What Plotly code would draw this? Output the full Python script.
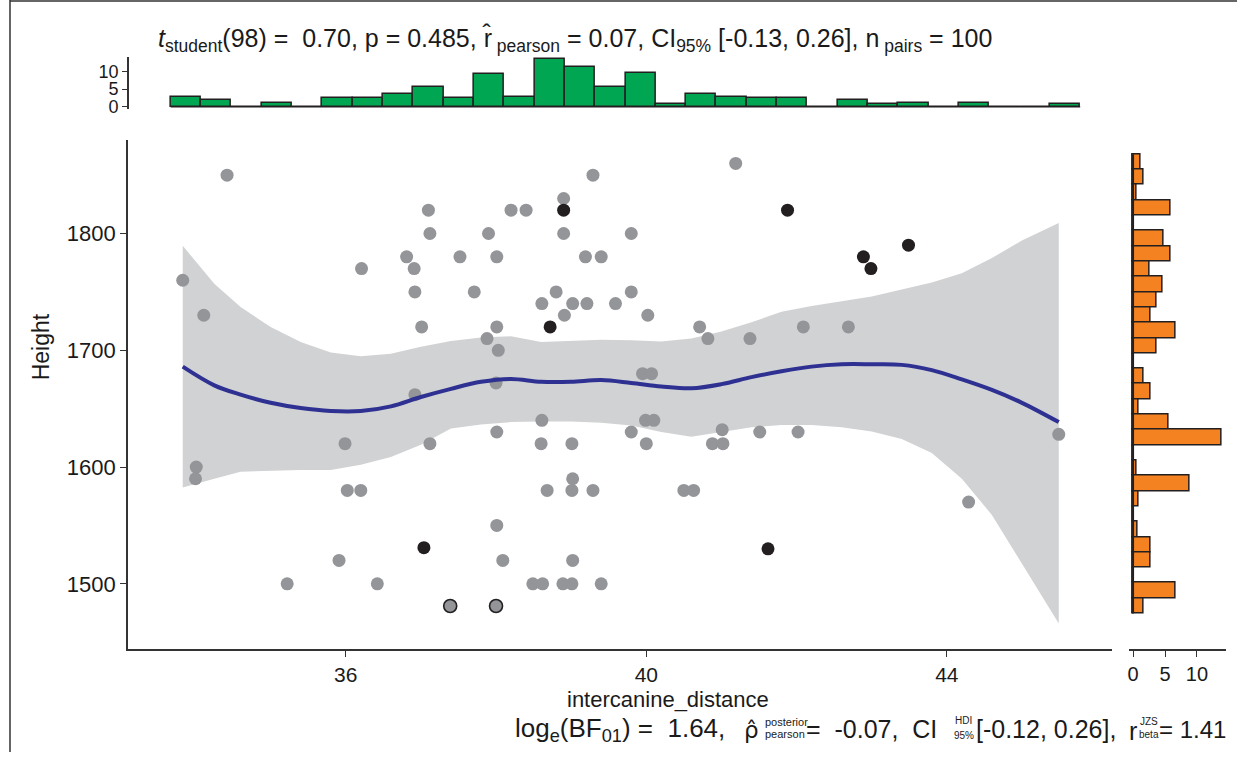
import plotly.graph_objects as go

W, H = 1237, 760
FONT = "Liberation Sans"
DARK = "#231F20"
GREY = "#939598"
BAND = "#D1D2D4"
BLUE = "#2E3192"
GREEN = "#00A651"
ORANGE = "#F58220"

# ---------------- data ----------------
grey_x = [34.42, 37.10, 38.20, 38.40, 38.90, 39.29, 37.12, 37.90, 38.90, 39.80,
          36.81, 37.52, 38.01, 39.19, 39.40, 36.21, 36.91, 33.83, 36.92, 37.71,
          38.80, 39.80, 38.61, 39.02, 39.21, 39.59, 34.11, 38.91, 37.01, 38.01,
          37.88, 38.03, 38.00, 36.92, 38.61, 35.99, 37.12, 38.01, 38.60, 39.01,
          39.80, 34.01, 34.00, 36.02, 36.20, 38.68, 39.01, 39.29, 39.02, 38.01,
          35.91, 38.09, 39.02, 35.22, 36.42, 38.49, 38.62, 38.89, 39.01, 39.40,
          41.19, 40.02, 40.71, 40.82, 41.38, 42.09, 42.69, 39.95, 40.07, 39.99,
          40.10, 40.00, 41.01, 40.88, 41.02, 41.51, 42.02, 45.49, 40.50, 40.63,
          44.29]
grey_y = [1850, 1820, 1820, 1820, 1830, 1850, 1800, 1800, 1800, 1800,
          1780, 1780, 1780, 1780, 1780, 1770, 1770, 1760, 1750, 1750,
          1750, 1750, 1740, 1740, 1740, 1740, 1730, 1730, 1720, 1720,
          1710, 1700, 1672, 1662, 1640, 1620, 1620, 1630, 1620, 1620,
          1630, 1600, 1590, 1580, 1580, 1580, 1580, 1580, 1590, 1550,
          1520, 1520, 1520, 1500, 1500, 1500, 1500, 1500, 1500, 1500,
          1860, 1730, 1720, 1710, 1710, 1720, 1720, 1680, 1680, 1640,
          1640, 1620, 1632, 1620, 1620, 1630, 1630, 1628, 1580, 1580,
          1570]
black_x = [38.90, 38.72, 37.04, 41.88, 43.49, 42.89, 42.99, 41.62]
black_y = [1820, 1720, 1531, 1820, 1790, 1780, 1770, 1530]
ring_x = [37.39, 38.00]
ring_y = [1481, 1481]

fit_x = [33.83, 34.25, 34.6, 35.0, 35.4, 35.8, 36.2, 36.6, 37.0, 37.4,
         37.8, 38.2, 38.6, 39.0, 39.4, 39.8, 40.2, 40.6, 41.0, 41.4,
         41.8, 42.2, 42.6, 43.0, 43.4, 43.8, 44.2, 44.6, 45.0, 45.49]
fit_y = [1686, 1670, 1662, 1655, 1650.5, 1648, 1648, 1652, 1660, 1667,
         1673, 1675.5, 1673, 1673, 1674.5, 1672, 1669, 1667.5, 1671, 1677,
         1682, 1686, 1688, 1688, 1687.5, 1683, 1675, 1666, 1655, 1638.5]
fit_hi = [1789.5, 1757, 1737, 1720, 1707, 1698, 1695, 1697, 1703, 1708,
          1711, 1712, 1707, 1708, 1709, 1708.5, 1707.5, 1710, 1716, 1724,
          1733, 1738, 1742, 1746, 1752, 1758, 1766, 1779, 1794, 1809]
fit_lo = [1582.5, 1590, 1596, 1597, 1597.5, 1597.5, 1602, 1608.7, 1619, 1633,
          1636.5, 1638.5, 1639, 1639, 1638, 1635.6, 1630, 1626, 1630, 1634,
          1636, 1636, 1634, 1630.5, 1624, 1612, 1590, 1559, 1517, 1466]

# top marginal histogram (x)
top_bin_start = 33.67
top_bin_width = 0.4035
top_counts = [2.8, 1.9, 0, 1.1, 0, 2.5, 2.6, 3.6, 5.5, 2.5,
              9.3, 2.8, 13.3, 11.3, 5.5, 9.6, 0.9, 3.6, 2.8, 2.6,
              2.5, 0, 2.0, 0.8, 1.0, 0, 1.1, 0, 0, 0.8]
# right marginal histogram (y), listed from top bin downward
right_bin_top = 1867.8
right_bin_width = 13.11
right_counts = [1.15, 1.7, 0.5, 5.8, 0, 4.8, 5.9, 2.6, 4.6, 3.7,
                2.7, 6.6, 3.7, 0, 1.7, 2.7, 0.9, 5.6, 13.9, 0,
                0.6, 8.8, 0.8, 0, 0.7, 2.7, 2.7, 0, 6.7, 1.7]

x_ticks = [36, 40, 44]
y_ticks = [1500, 1600, 1700, 1800]
hist_ticks = [0, 5, 10]

# ---------------- helpers ----------------
def px(x):
    return x / W


def py(y):
    return 1 - y / H


top_centers = [top_bin_start + top_bin_width * (i + 0.5) for i in range(len(top_counts))]
right_centers = [right_bin_top - right_bin_width * (i + 0.5) for i in range(len(right_counts))]

fig = go.Figure()

# CI band
fig.add_trace(go.Scatter(x=fit_x + fit_x[::-1], y=fit_hi + fit_lo[::-1], fill="toself",
                         fillcolor=BAND, line=dict(width=0), mode="lines",
                         hoverinfo="skip", showlegend=False, xaxis="x", yaxis="y"))
# points
fig.add_trace(go.Scatter(x=grey_x, y=grey_y, mode="markers",
                         marker=dict(size=13, color=GREY, line=dict(width=0)),
                         showlegend=False, xaxis="x", yaxis="y"))
fig.add_trace(go.Scatter(x=black_x, y=black_y, mode="markers",
                         marker=dict(size=13, color=DARK, line=dict(width=0)),
                         showlegend=False, xaxis="x", yaxis="y"))
fig.add_trace(go.Scatter(x=ring_x, y=ring_y, mode="markers",
                         marker=dict(size=13, color=GREY, line=dict(width=1.6, color=DARK)),
                         showlegend=False, xaxis="x", yaxis="y"))
# smooth line
fig.add_trace(go.Scatter(x=fit_x, y=fit_y, mode="lines", line=dict(color=BLUE, width=4, shape="spline"),
                         showlegend=False, xaxis="x", yaxis="y"))

# top histogram
fig.add_trace(go.Scatter(x=[top_bin_start, top_bin_start + top_bin_width * len(top_counts)], y=[0, 0],
                         mode="lines", line=dict(color=DARK, width=1.5), showlegend=False,
                         xaxis="x2", yaxis="y2"))
fig.add_trace(go.Bar(x=top_centers, y=top_counts, width=top_bin_width,
                     marker=dict(color=GREEN, line=dict(color=DARK, width=1.5)),
                     showlegend=False, xaxis="x2", yaxis="y2"))
# right histogram
fig.add_trace(go.Scatter(x=[0, 0], y=[right_bin_top - right_bin_width * len(right_counts), right_bin_top],
                         mode="lines", line=dict(color=DARK, width=2), showlegend=False,
                         xaxis="x3", yaxis="y3"))
fig.add_trace(go.Bar(y=right_centers, x=right_counts, width=right_bin_width, orientation="h",
                     marker=dict(color=ORANGE, line=dict(color=DARK, width=1.5)),
                     showlegend=False, xaxis="x3", yaxis="y3"))

TXT = "#1a1a1a"
axis_common = dict(showgrid=False, zeroline=False, showline=True, linecolor="#333333", linewidth=1.5,
                   ticks="outside", ticklen=6, tickwidth=1.3, tickcolor="#333333",
                   tickfont=dict(family=FONT, size=22, color=TXT))
hist_tickfont = dict(family=FONT, size=18, color=TXT)

fig.update_layout(
    width=W, height=H, margin=dict(l=0, r=0, t=0, b=0),
    paper_bgcolor="white", plot_bgcolor="rgba(0,0,0,0)",
    bargap=0,
    xaxis=dict(domain=[px(127), px(1112)], range=[33.1, 46.2], tickvals=x_ticks,
               anchor="y", **{**axis_common, "tickfont": dict(family=FONT, size=21, color=TXT)}),
    yaxis=dict(domain=[py(656), py(141)], range=[1444.1, 1880.5], tickvals=y_ticks,
               anchor="x", **axis_common),
    xaxis2=dict(domain=[px(127), px(1112)], matches="x", visible=False, anchor="y2"),
    yaxis2=dict(domain=[py(110.4), py(57.7)], range=[-0.67, 13.97], tickvals=hist_ticks,
                anchor="free", position=px(127),
                **{**axis_common, "tickfont": hist_tickfont, "ticklen": 5}),
    xaxis3=dict(domain=[px(1128.5), px(1226.4)], range=[-0.7, 14.6], tickvals=hist_ticks, anchor="y3",
                **{**axis_common, "tickfont": dict(family=FONT, size=20, color=TXT)}),
    yaxis3=dict(domain=[py(656), py(141)], matches="y", visible=False, anchor="x3"),
)

annos = []
annos.append(dict(x=px(155), y=py(40), xref="paper", yref="paper", xanchor="left", yanchor="middle",
                  showarrow=False, font=dict(family=FONT, size=25, color=TXT),
                  text="<i>t</i><sub>student</sub>(98) =  0.70, p = 0.485, r\u0302<sub> pearson</sub> = 0.07, "
                       "CI<sub>95%</sub> [-0.13, 0.26], n<sub> pairs</sub> = 100"))
# axis titles
annos.append(dict(x=px(668), y=py(707), xref="paper", yref="paper", xanchor="center", yanchor="middle",
                  showarrow=False, font=dict(family=FONT, size=22, color=TXT), text="intercanine_distance"))
annos.append(dict(x=px(40), y=py(350), xref="paper", yref="paper", xanchor="center", yanchor="middle",
                  showarrow=False, textangle=-90, font=dict(family=FONT, size=23, color=TXT), text="Height"))

cap_font = dict(family=FONT, size=26, color=TXT)
small_font = dict(family=FONT, size=11, color=TXT)
tiny_font = dict(family=FONT, size=10, color=TXT)
cap_y = 737
NB = "\u00a0"
# (x, y, anchor, text, font)
pieces = [
    (512, cap_y, "left", "log<sub>e</sub>(BF<sub>01</sub>) =" + NB + NB + "1.64,", cap_font),
    (742, cap_y + 1, "left", "\u03c1\u0302", dict(family="DejaVu Sans", size=23, color=TXT)),
    (763, cap_y - 7, "left", "posterior", small_font),
    (763, cap_y + 5, "left", "pearson", small_font),
    (804, cap_y, "left", "=" + NB + " -0.07," + NB + " CI", dict(family=FONT, size=25, color=TXT)),
    (953, cap_y - 9, "left", "HDI", tiny_font),
    (952, cap_y + 6, "left", "95%", tiny_font),
    (974, cap_y, "left", "[-0.12, 0.26],", dict(family=FONT, size=25, color=TXT)),
    (1127, cap_y + 2, "left", "r", dict(family=FONT, size=25, color=TXT)),
    (1138, cap_y - 8, "left", "JZS", tiny_font),
    (1137, cap_y + 5, "left", "beta", tiny_font),
    (1228, cap_y, "right", "= 1.41", dict(family=FONT, size=24, color=TXT)),
]
for x0, y0, anc, t, f in pieces:
    annos.append(dict(x=px(x0), y=py(y0), xref="paper", yref="paper", xanchor=anc, yanchor="middle",
                      showarrow=False, font=f, text=t))
fig.update_layout(annotations=annos)

# outer frame lines of the figure panel
fig.add_shape(type="line", xref="paper", yref="paper", x0=px(9), x1=px(9), y0=0, y1=1,
              line=dict(color="#333333", width=1.5))
fig.add_shape(type="line", xref="paper", yref="paper", x0=px(9), x1=1, y0=py(1), y1=py(1),
              line=dict(color="#333333", width=1.5))

fig.write_html("out.html", config={"displayModeBar": False},
               post_script="document.body.style.margin='0';document.body.style.overflow='hidden';")
